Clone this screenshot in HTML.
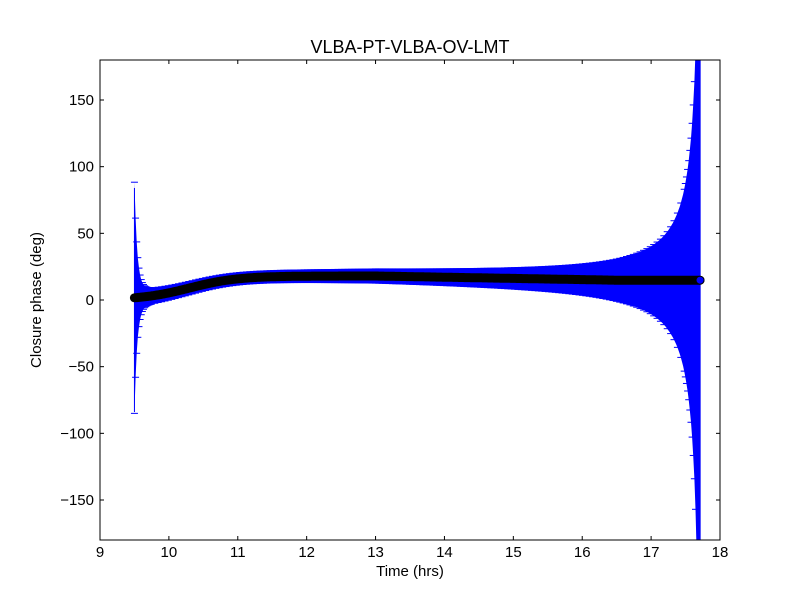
<!DOCTYPE html>
<html><head><meta charset="utf-8"><style>
html,body{margin:0;padding:0;background:#fff;overflow:hidden;width:800px;height:600px;position:relative;}
svg{display:block;position:absolute;left:0;top:0;overflow:hidden;font-family:"Liberation Sans","DejaVu Sans",sans-serif;}
</style></head><body>
<svg id="s" width="800" height="600" viewBox="0 0 800 600" xmlns="http://www.w3.org/2000/svg">
<rect width="800" height="600" fill="#fff"/>
<defs><clipPath id="c"><rect x="100" y="60" width="620" height="480"/></clipPath></defs>
<g id="data" clip-path="url(#c)"></g>
<rect x="100" y="60" width="620" height="480" fill="none" stroke="#000" stroke-width="1"/>
<g id="ticks" stroke="#000" stroke-width="1"></g>
<g id="labels" font-size="15" fill="#000"></g>
<text x="410" y="53" font-size="18" text-anchor="middle">VLBA-PT-VLBA-OV-LMT</text>
<text x="410" y="576" font-size="15" text-anchor="middle">Time (hrs)</text>
<text x="41" y="300" font-size="15" text-anchor="middle" transform="rotate(-90 41 300)">Closure phase (deg)</text>
</svg>
<script>
var NS="http://www.w3.org/2000/svg";
function X(t){return 100+(t-9)*620/9;}
function Y(v){return 300-v*480/360;}
function el(p,n,a){var e=document.createElementNS(NS,n);for(var k in a)e.setAttribute(k,a[k]);p.appendChild(e);return e;}
var tk=document.getElementById('ticks'),lb=document.getElementById('labels');
for(var t=9;t<=18;t++){var x=X(t);el(tk,'line',{x1:x,y1:540,x2:x,y2:536});el(tk,'line',{x1:x,y1:60,x2:x,y2:64});
var tx=el(lb,'text',{x:x,y:557,'text-anchor':'middle'});tx.textContent=t;}
for(var v=-150;v<=150;v+=50){var y=Y(v);el(tk,'line',{x1:100,y1:y,x2:104,y2:y});el(tk,'line',{x1:720,y1:y,x2:716,y2:y});
var ty=el(lb,'text',{x:94,y:y+5,'text-anchor':'end'});ty.textContent=(v<0?'\u2212'+(-v):v);}
function ph(t){var p=18/(1+Math.exp(-(t-10.3)/0.35));if(t>13)p-=0.9*Math.min(t-13,3.5);return p;}
function er(t){var e=1.5+18/(17.75-t)+3*Math.exp(-(t-9.5)/0.8)+80*Math.exp(-(t-9.5)/0.04);if(t>17.68)e=400;return e;}
var d=document.getElementById('data');
var N=500,t0=9.5,t1=17.71,up=[],lo=[],pts=[];
var g=el(d,'g',{stroke:'#0000ff','stroke-width':1});
for(var i=0;i<=N;i++){var t=t0+(t1-t0)*i/N,p=ph(t),e=er(t),x=X(t);
up.push(x.toFixed(1)+','+Y(p+e).toFixed(1));lo.unshift(x.toFixed(1)+','+Y(p-e).toFixed(1));pts.push(x.toFixed(1)+','+Y(p).toFixed(1));
if(i%3==0||i<15||i>N-15){el(g,'line',{x1:x-3.5,y1:Y(p+e),x2:x+3.5,y2:Y(p+e)});el(g,'line',{x1:x-3.5,y1:Y(p-e),x2:x+3.5,y2:Y(p-e)});}}
el(d,'line',{x1:X(t0),y1:Y(84),x2:X(t0),y2:Y(-84),stroke:'#0000ff'});
el(d,'polygon',{points:up.concat(lo).join(' '),fill:'#0000ff'});
el(d,'rect',{x:X(17.69),y:60,width:2,height:480,fill:'#0000ff'});
el(d,'polyline',{points:pts.join(' '),fill:'none',stroke:'#000','stroke-width':9,'stroke-linecap':'round','stroke-linejoin':'round'});
el(d,'circle',{cx:X(t1),cy:Y(ph(t1)),r:4,fill:'#0000ff',stroke:'#000'});
</script>
</body></html>
